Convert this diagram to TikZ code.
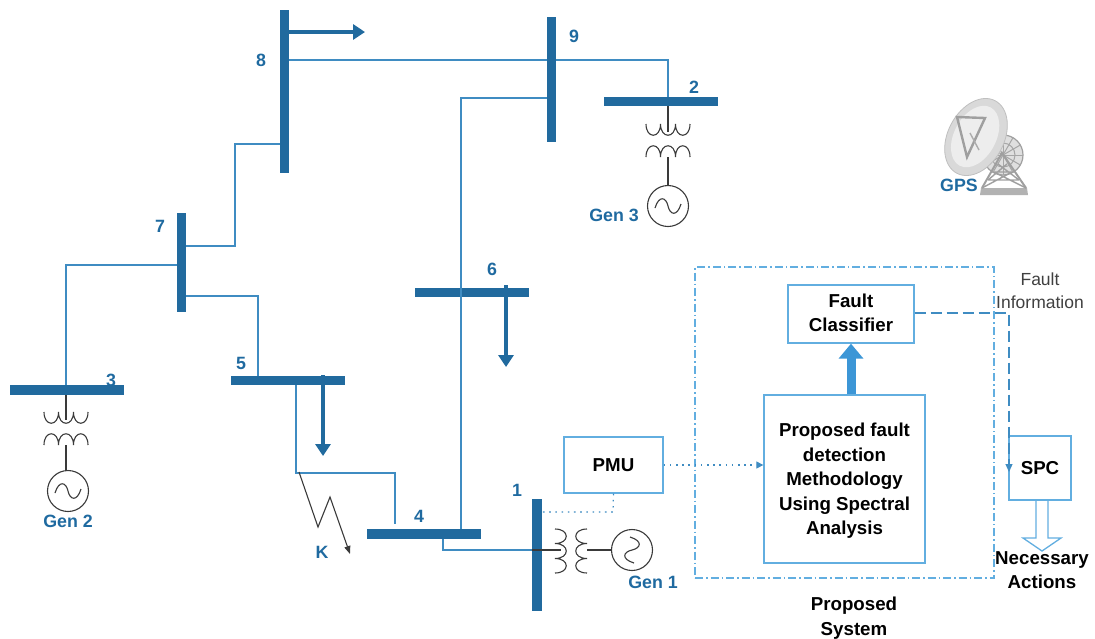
\documentclass[tikz,border=0pt]{standalone}
\usepackage{fontspec}
\setmainfont{Liberation Sans}
\usetikzlibrary{arrows.meta,shapes.arrows,calc}
\definecolor{busc}{HTML}{216A9E}
\definecolor{linec}{HTML}{3F8CC2}
\definecolor{boxc}{HTML}{62AEE0}
\definecolor{labc}{HTML}{1F6AA0}
\definecolor{thickc}{HTML}{3C96D6}
\definecolor{blk}{HTML}{3A3A3A}
\tikzset{
  x=1pt,y=-1pt,
  hbus/.style={fill=busc,draw=none,inner sep=0pt,minimum width=114pt,minimum height=9.5pt,outer sep=0pt},
  vbus/.style={fill=busc,draw=none,inner sep=0pt,minimum width=9.5pt,outer sep=0pt},
  wire/.style={draw=linec,line width=1.2pt},
  gline/.style={draw=blk,line width=1.1pt},
  loadarrow/.style={draw=busc,line width=3.7pt,-{Triangle[length=12pt,width=15pt]}},
  lab/.style={text=labc,font=\fontsize{17.8}{20}\selectfont\bfseries,inner sep=0pt},
  boxtxt/.style={text=black,font=\fontsize{18.7}{24.5}\selectfont\bfseries,align=center,inner sep=0pt},
  sbox/.style={draw=boxc,line width=1.3pt,fill=none,inner sep=0pt},
  gen/.style={circle,draw=blk,line width=1.1pt,minimum size=41pt,inner sep=0pt,fill=white},
  dotline/.style={draw=linec,line width=1.2pt,dash pattern=on 1.6pt off 4.6pt},
  pics/coil/.style={code={\draw[blk,line width=1.1pt] (-22,0)
     .. controls (-22,#1) and (-7.5,#1) .. (-7.5,0)
     .. controls (-7.5,#1) and (7.5,#1) .. (7.5,0)
     .. controls (7.5,#1) and (22,#1) .. (22,0);}},
  pics/sinew/.style={code={\draw[blk,line width=1.1pt] (-13,2)
     .. controls (-9,-11) and (-2,-9) .. (0,0)
     .. controls (2,9) and (9,11) .. (13,-2);}},
}
\begin{document}
\begin{tikzpicture}
\useasboundingbox (0,0) rectangle (1095,638);
% buses
\node[vbus,minimum height=163pt] (b8) at (284.5,91.5) {};
\node[vbus,minimum height=125pt] (b9) at (551.5,79.5) {};
\node[hbus] (b2) at (661,101.5) {};
\node[vbus,minimum height=99pt] (b7) at (181.5,262.5) {};
\node[hbus] (b6) at (472,292.5) {};
\node[hbus] (b5) at (287.5,380.5) {};
\node[hbus] (b3) at (67,390) {};
\node[hbus] (b4) at (423.5,534) {};
\node[vbus,minimum height=112pt] (b1) at (537,555) {};
% connector coordinates
\coordinate (c89) at (289,60);
\coordinate (c98) at (547,60);
\coordinate (c92a) at (556,60);
\coordinate (c92b) at (668,97);
\coordinate (c96a) at (547,98);
\coordinate (c96b) at (461,529);
\coordinate (c87a) at (280,144);
\coordinate (c87b) at (186,246);
\coordinate (c73a) at (177,265);
\coordinate (c73b) at (66,385);
\coordinate (c75a) at (186,296);
\coordinate (c75b) at (258,376);
\coordinate (c54a) at (296,385);
\coordinate (c54b) at (395,524);
\coordinate (c41a) at (443,539);
\coordinate (c41b) at (532,550);
% wires
\draw[wire] (c89) -- (c98);
\draw[wire] (c92a) -| (c92b);
\draw[wire] (c96a) -| (c96b);
\draw[wire] (c87a) -- (235,144) -- (235,246) -- (c87b);
\draw[wire] (c73a) -| (c73b);
\draw[wire] (c75a) -| (c75b);
\draw[wire] (c54a) -- (296,473) -- (395,473) -- (c54b);
\draw[wire] (c41a) |- (c41b);
% load arrows
\coordinate (l8a) at (289,32); \coordinate (l8b) at (365,32);
\coordinate (l6a) at (506,285); \coordinate (l6b) at (506,367);
\coordinate (l5a) at (323,375); \coordinate (l5b) at (323,456);
\draw[loadarrow] (l8a) -- (l8b);
\draw[loadarrow] (l6a) -- (l6b);
\draw[loadarrow] (l5a) -- (l5b);
% fault
\coordinate (fa) at (299,472); \coordinate (fb) at (350,554);
\draw[gline,-{Triangle[length=8pt,width=6pt]}] (fa) -- (318,527) -- (330,497) -- (fb);
% Gen 2
\node[gen] (g2) at (68,491) {};
\pic at (68,491) {sinew};
\coordinate (t2a) at (66,395); \coordinate (t2b) at (66,420); \coordinate (t2c) at (66,445);
\pic at (66,412) {coil=15};
\pic at (66,445) {coil=-15};
\draw[gline] (t2a) -- (t2b);
\draw[gline] (t2c) -- (g2.north -| t2c);
% Gen 3
\node[gen] (g3) at (668,206) {};
\pic at (668,206) {sinew};
\coordinate (t3a) at (668,106); \coordinate (t3b) at (668,132); \coordinate (t3c) at (668,157);
\pic at (668,124) {coil=15};
\pic at (668,157) {coil=-15};
\draw[gline] (t3a) -- (t3b);
\draw[gline] (t3c) -- (g3.north);
% Gen 1
\node[gen] (g1) at (632,550) {};
\pic[rotate=90] at (632,550) {sinew};
\coordinate (t1a) at (532,550); \coordinate (t1b) at (561,550); \coordinate (t1c) at (587,550);
\pic[rotate=90] at (555,551) {coil=15};
\pic[rotate=90] at (587,551) {coil=-15};
\draw[gline] (t1a) -- (t1b);
\draw[gline] (t1c) -- (g1.west);
% blocks
\node[sbox,minimum width=99pt,minimum height=56pt] (pmu) at (613.5,465) {};
\node[boxtxt] at (pmu.center) {PMU};
\node[sbox,minimum width=126pt,minimum height=58pt] (fc) at (851,314) {};
\node[boxtxt] at ([yshift=1pt]fc.center) {Fault\\Classifier};
\node[sbox,minimum width=161pt,minimum height=168pt] (pm) at (844.5,479) {};
\node[boxtxt] at ([yshift=-2pt]pm.center) {Proposed fault\\detection\\Methodology\\Using Spectral\\Analysis};
\node[sbox,minimum width=62pt,minimum height=64pt] (spc) at (1040,468) {};
\node[boxtxt] at (spc.center) {SPC};
\node[draw=boxc,line width=1.3pt,dash pattern=on 8pt off 3pt on 1.5pt off 3pt,minimum width=299pt,minimum height=311pt,inner sep=0pt] (sys) at (844.5,422.5) {};
% control connectors
\draw[dotline,-{Triangle[length=7pt,width=7pt]}] (pmu.east) -- (pm.west |- pmu.east);
\coordinate (dm) at (613,512);
\draw[dotline] (pmu.south) -- (dm) -- (542,512);
\draw[draw=thickc,line width=9pt,-{Triangle[length=15pt,width=24pt]}] (pm.north -| fc.south) -- (fc.south);
\coordinate (d1) at (1009,313);
\coordinate (d2) at (1009,472);
\draw[draw=linec,line width=1.2pt,dash pattern=on 11pt off 5pt,-{Triangle[length=8pt,width=7pt]}] (fc.east |- d1) -- (d1) -- (d2);
% hollow arrow
\draw[boxc,line width=1.3pt] (1036,500) -- (1036,538) -- (1023,538) -- (1042,551) -- (1061,538) -- (1048,538) -- (1048,500);
% GPS icon
\begin{scope}
  \fill[gray!25] (1003,155) circle (20);
  \draw[gray!75,line width=1.2pt] (1003,155) circle (20);
  \foreach \a in {0,30,...,330} \draw[gray!70,line width=1pt] (1003,155) -- ++(\a:20);
  \draw[gray!70,line width=1pt] (1003,155) circle (12);
  \fill[gray!30,draw=gray!50,line width=0.8pt,rotate around={-28:(976,137)}] (976,137) ellipse (28 and 41);
  \fill[gray!14,rotate around={-28:(976,137)}] (975,137) ellipse (21 and 33);
  \draw[gray!75,line width=2.4pt] (957,117) -- (985,118) -- (967,157) -- cycle;
  \draw[gray!65,line width=1.4pt] (970,133) -- (979,150);
  \fill[gray!60] (980,195) -- (1028,195) -- (1027,188) -- (981,188) -- cycle;
  \draw[gray!75,line width=2pt] (982,188) -- (1002,153) -- (1026,188);
  \draw[gray!75,line width=1.4pt] (994,172) -- (1012,172) (988,180) -- (1019,180) (982,188) -- (1012,172) (1026,188) -- (994,172) (988,180) -- (1007,164) (1019,180) -- (998,164);
\end{scope}
% labels
\node[lab] at (261,60) {8};
\node[lab] at (574,36) {9};
\node[lab] at (694,87) {2};
\node[lab] at (160,226) {7};
\node[lab] at (111,380) {3};
\node[lab] at (241,363) {5};
\node[lab] at (492,269) {6};
\node[lab] at (419,516) {4};
\node[lab] at (517,490) {1};
\node[lab] at (322,552) {K};
\node[lab] at (614,215) {Gen 3};
\node[lab] at (68,521) {Gen 2};
\node[lab] at (653,582) {Gen 1};
\node[lab] at (959,185) {GPS};
\node[boxtxt] at (1042,570) {Necessary\\Actions};
\node[boxtxt] at (854,618) {Proposed\\System};
\node[inner sep=0pt,align=center,text=black!75,font=\fontsize{17.5}{23}\selectfont] at (1040,291) {Fault\\Information};
\end{tikzpicture}
\end{document}
